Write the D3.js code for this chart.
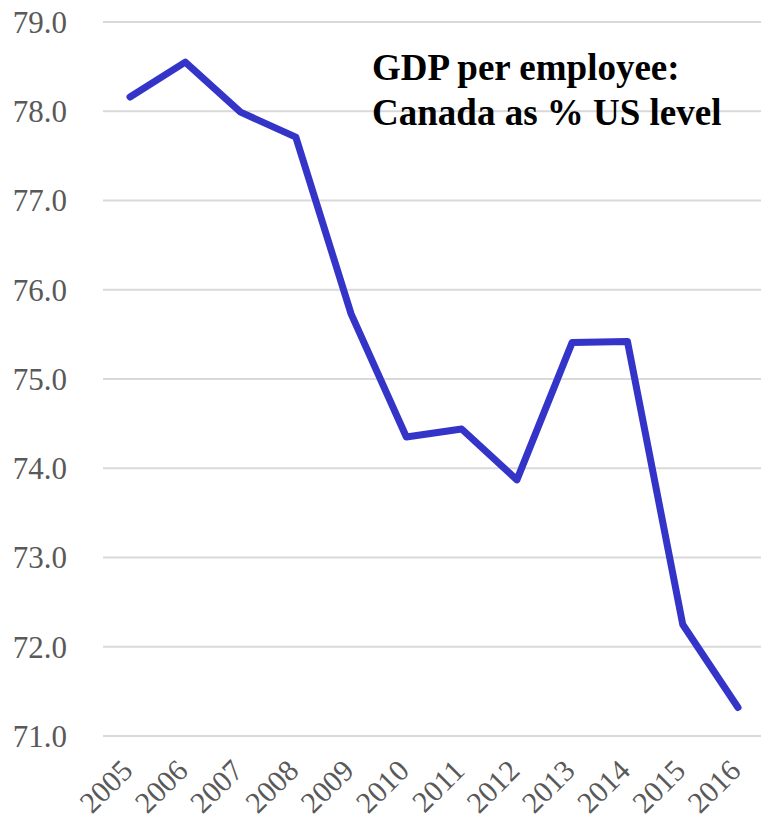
<!DOCTYPE html>
<html>
<head>
<meta charset="utf-8">
<script src="https://cdn.jsdelivr.net/npm/d3@7"></script>
<style>
  body { margin: 0; background: #fff; }
  svg { display: block; }
</style>
</head>
<body>
<svg id="chart" width="761" height="824"></svg>
<script>
// Chart data
var years = ["2005", "2006", "2007", "2008", "2009", "2010", "2011", "2012", "2013", "2014", "2015", "2016"];
var ratio = [78.16, 78.55, 77.99, 77.71, 75.73, 74.35, 74.44, 73.87, 75.41, 75.42, 72.25, 71.32];
var yTicks = [71, 72, 73, 74, 75, 76, 77, 78, 79];
var titleLines = ["GDP per employee:", "Canada as % US level"];

var width = 761,
  height = 824;

var svg = d3.select("#chart");

// Scales
var x = d3.scalePoint()
  .domain(years)
  .range([130, 738]);

var y = d3.scaleLinear()
  .domain([71, 79])
  .range([736, 22]);

// Gridlines
svg.append("g")
  .selectAll("line")
  .data(yTicks)
  .enter().append("line")
  .attr("x1", 103)
  .attr("x2", width)
  .attr("y1", function(d) { return y(d); })
  .attr("y2", function(d) { return y(d); })
  .attr("stroke", "#d9d9d9")
  .attr("stroke-width", 2);

// Y axis labels
svg.append("g")
  .selectAll("text")
  .data(yTicks)
  .enter().append("text")
  .attr("x", 67)
  .attr("y", function(d) { return y(d); })
  .attr("dy", "0.35em")
  .attr("text-anchor", "end")
  .style("font-family", "'Liberation Serif', 'Times New Roman', serif")
  .style("font-size", "31px")
  .attr("fill", "#595959")
  .text(function(d) { return d3.format(".1f")(d); });

// X axis labels, rotated
svg.append("g")
  .selectAll("text")
  .data(years)
  .enter().append("text")
  .attr("transform", function(d) {
    return "translate(" + (x(d) - 3) + ",765) rotate(-45)";
  })
  .attr("dy", "0.35em")
  .attr("text-anchor", "end")
  .style("font-family", "'Liberation Serif', 'Times New Roman', serif")
  .style("font-size", "30px")
  .attr("fill", "#595959")
  .text(function(d) { return d; });

// Line
var line = d3.line()
  .x(function(d, i) { return x(years[i]); })
  .y(function(d) { return y(d); });

svg.append("path")
  .datum(ratio)
  .attr("d", line)
  .attr("fill", "none")
  .attr("stroke", "#3434c8")
  .attr("stroke-width", 7)
  .attr("stroke-linejoin", "round")
  .attr("stroke-linecap", "round");

// Title
svg.append("g")
  .selectAll("text")
  .data(titleLines)
  .enter().append("text")
  .attr("x", 372)
  .attr("y", function(d, i) { return 80 + i * 45; })
  .style("font-family", "'Liberation Serif', 'Times New Roman', serif")
  .style("font-size", "37px")
  .style("font-weight", "bold")
  .attr("fill", "#000")
  .text(function(d) { return d; });
</script>
</body>
</html>
